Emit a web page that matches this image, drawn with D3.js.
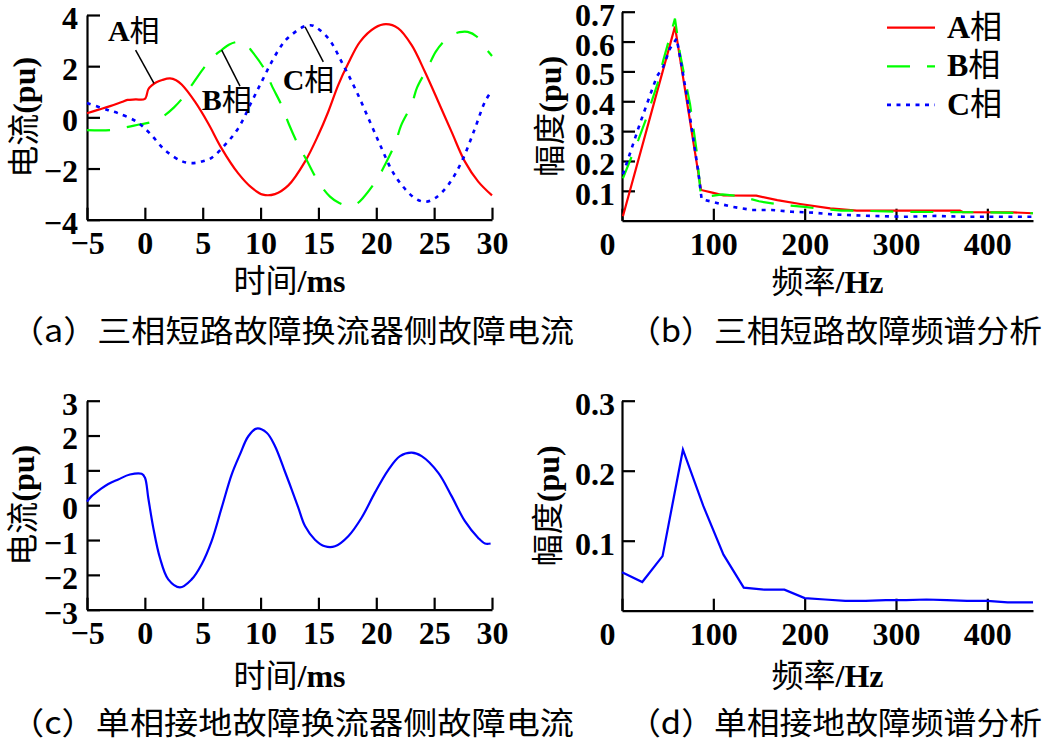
<!DOCTYPE html>
<html><head><meta charset="utf-8">
<script src="https://cdn.jsdelivr.net/npm/d3@7"></script>
<style>
body{margin:0;background:#fff;}
svg{display:block;background:#fff;}
</style></head><body>
<svg id="chart" width="1044" height="739"></svg>
<script>
// ---------- data ----------
const timeTicks = [-5, 0, 5, 10, 15, 20, 25, 30];
const curTicksA = [-4, -2, 0, 2, 4];
const curTicksC = [-3, -2, -1, 0, 1, 2, 3];
const freqTicks = [0, 100, 200, 300, 400];
const magTicksB = [0.1, 0.2, 0.3, 0.4, 0.5, 0.6, 0.7];
const magTicksD = [0.1, 0.2, 0.3];

const phaseLabels = ["A相", "B相", "C相"];
const phaseColors = ["#ff0000", "#00ff00", "#0000ff"];

// (a) three-phase short circuit converter-side current
const timeA = [-5, -4, -3, -2, -1.5, -0.8, 0, 0.3, 0.6, 1.0, 1.5, 2.17, 2.7, 3.18, 4.33, 5.48, 6.63, 8.07, 9.23, 10.2, 11.24, 12.4, 13.84, 14.99, 15.85, 16.71, 17.58, 18.59, 19.88, 20.84, 21.9, 23.06, 24.2, 25.36, 26.5, 27.66, 28.81, 30];
const currA = [0.16, 0.3, 0.44, 0.6, 0.68, 0.7, 0.72, 1.1, 1.25, 1.37, 1.46, 1.52, 1.45, 1.28, 0.61, -0.24, -1.21, -2.19, -2.75, -3.02, -3.0, -2.66, -1.73, -0.69, 0.22, 1.26, 2.11, 2.95, 3.5, 3.64, 3.48, 2.82, 1.78, 0.61, -0.56, -1.73, -2.51, -3.05];
const timeB = [-5, -3, -1.45, -0.5, 0.44, 1.0, 1.74, 2.5, 3.18, 4.1, 5.25, 6.0, 6.63, 7.3, 8.07, 8.6, 9.29, 10.38, 10.96, 11.88, 12.45, 13.26, 13.98, 14.99, 16.0, 16.8, 17.58, 18.3, 18.87, 20.12, 20.81, 21.67, 22.13, 23.06, 23.52, 24.44, 25.13, 25.8, 26.51, 27.2, 27.9, 28.7, 29.39, 30];
const currB = [-0.5, -0.5, -0.37, -0.28, -0.2, -0.1, 0.09, 0.38, 0.71, 1.29, 2.02, 2.4, 2.63, 2.85, 2.95, 2.9, 2.56, 1.85, 1.25, 0.41, -0.27, -1.08, -1.67, -2.52, -3.1, -3.35, -3.46, -3.38, -3.14, -2.38, -1.8, -0.98, -0.33, 0.51, 1.16, 1.94, 2.56, 2.95, 3.21, 3.33, 3.34, 3.15, 2.73, 2.4];
const timeC = [-5, -3.16, -2.3, -0.71, 0.44, 1.74, 3.18, 4.04, 4.9, 5.77, 6.92, 8.07, 9.23, 10.09, 10.96, 11.82, 12.4, 13.69, 14.2, 14.55, 15.85, 17.15, 18.3, 19.45, 20.46, 21.33, 22.19, 23.34, 24.2, 25.07, 26.22, 27.38, 28.53, 29.39, 30];
const currC = [0.56, 0.28, 0.16, -0.17, -0.63, -1.28, -1.71, -1.79, -1.73, -1.58, -1.08, -0.43, 0.61, 1.39, 2.17, 2.82, 3.12, 3.54, 3.6, 3.58, 3.09, 2.04, 1.0, -0.17, -1.21, -2.06, -2.64, -3.16, -3.3, -3.16, -2.64, -1.73, -0.43, 0.61, 1.05];

// (b) three-phase short circuit spectrum
const freqA = [1, 58, 86.5, 100, 111, 147, 170, 195, 228, 257, 370, 373, 428, 450];
const magA  = [0.015, 0.65, 0.103, 0.093, 0.085, 0.084, 0.069, 0.056, 0.041, 0.034, 0.034, 0.029, 0.028, 0.025];
const freqB = [1, 10.6, 17.8, 26.9, 32.5, 39.7, 45.2, 58, 63.5, 74.5, 81.8, 86.5, 95, 110, 130, 150, 175, 200, 220, 240, 265, 300, 350, 400, 450];
const magB  = [0.142, 0.215, 0.27, 0.345, 0.4, 0.466, 0.537, 0.677, 0.56, 0.39, 0.231, 0.078, 0.082, 0.088, 0.082, 0.065, 0.053, 0.046, 0.039, 0.034, 0.033, 0.03, 0.029, 0.028, 0.025];
const freqC = [1, 8.8, 19.7, 30.7, 38, 45.2, 52.6, 59.9, 65.4, 70.8, 78, 83.5, 87.2, 98, 109, 120, 142, 164, 186, 209, 231, 264, 308, 344, 377, 450];
const magC  = [0.155, 0.226, 0.326, 0.42, 0.482, 0.516, 0.577, 0.61, 0.516, 0.42, 0.276, 0.164, 0.072, 0.064, 0.055, 0.047, 0.036, 0.036, 0.03, 0.027, 0.021, 0.017, 0.013, 0.016, 0.013, 0.013];

// (c) single-phase ground fault converter-side current
const timeS = [-5, -4.6, -3.88, -3.16, -2.3, -1.29, -0.28, 0.01, 0.3, 0.73, 1.3, 2.02, 3.03, 4.04, 4.9, 5.77, 6.64, 7.5, 8.22, 8.94, 9.66, 10.53, 11.24, 12.11, 12.69, 13.26, 13.84, 14.7, 15.56, 16.43, 17.58, 18.73, 19.88, 21.03, 22.05, 23.06, 23.92, 25.36, 26.51, 27.66, 28.81, 29.39, 29.88];
const currS = [0.1, 0.26, 0.45, 0.61, 0.74, 0.88, 0.9, 0.79, 0.2, -0.65, -1.51, -2.13, -2.36, -2.13, -1.7, -1.03, -0.07, 0.88, 1.46, 1.98, 2.2, 2.08, 1.7, 0.96, 0.45, -0.07, -0.6, -0.99, -1.18, -1.18, -0.89, -0.36, 0.36, 1.01, 1.41, 1.51, 1.41, 0.93, 0.26, -0.46, -0.94, -1.1, -1.1];

// (d) single-phase ground fault spectrum
const freqS = [0, 22.2, 44.4, 66.7, 88.9, 111.1, 133.3, 155.6, 177.8, 200, 222.2, 244.4, 266.7, 288.9, 311.1, 333.3, 355.6, 377.8, 400, 422.2, 444.4, 450];
const magS  = [0.055, 0.041, 0.078, 0.23, 0.15, 0.08, 0.033, 0.03, 0.03, 0.018, 0.016, 0.014, 0.014, 0.015, 0.015, 0.016, 0.015, 0.014, 0.014, 0.012, 0.012, 0.012];

// annotations in panel (a): leader line [t1, v1, t2, v2] and label anchor [t, v]
const annoLines = [[-0.8, 2.63, 0.79, 1.33], [6.64, 2.63, 8.22, 1.22], [13.84, 3.54, 15.42, 2.17]];
const annoPos = [[-3.19, 2.98], [4.91, 0.28], [11.91, 1.07]];

const captions = ["（a）三相短路故障换流器侧故障电流", "（b）三相短路故障频谱分析",
                  "（c）单相接地故障换流器侧故障电流", "（d）单相接地故障频谱分析"];

// ---------- drawing ----------
const svg = d3.select("#chart");
const LAT = "'Liberation Serif','Times New Roman',serif";
const CJK = "'Noto Sans CJK SC','Noto Sans CJK JP',sans-serif";
const CJKRE = /[\u3000-\u9fff\uff00-\uffef]/;

function mixedText(sel, str, size) {
  const runs = str.match(/[\u3000-\u9fff\uff00-\uffef]+|[^\u3000-\u9fff\uff00-\uffef]+/g);
  runs.forEach(r => {
    const cjk = CJKRE.test(r);
    sel.append("tspan").text(r)
      .attr("font-family", cjk ? CJK : LAT)
      .attr("font-weight", cjk ? "normal" : "bold")
      .attr("font-size", size);
  });
  return sel;
}

const dashes = [null, "23,17", "4,5.5"];

function panel(p) {
  const g = svg.append("g");
  const x = d3.scaleLinear().domain(p.xd).range(p.xr);
  const y = d3.scaleLinear().domain(p.yd).range(p.yr);

  const xa = d3.axisBottom(x).tickValues(p.xt).tickFormat(p.xf)
    .tickSizeInner(-12).tickSizeOuter(0).tickPadding(12);
  const ya = d3.axisLeft(y).tickValues(p.yt).tickFormat(p.yf)
    .tickSizeInner(-13).tickSizeOuter(0).tickPadding(p.ypad);

  const gx = g.append("g").attr("transform", `translate(0,${p.yr[0]})`).call(xa);
  const gy = g.append("g").attr("transform", `translate(${p.xr[0]},0)`).call(ya);
  [gx, gy].forEach(a => {
    a.select(".domain").attr("stroke", "#000").attr("stroke-width", 2.2);
    a.selectAll(".tick line").attr("stroke", "#000").attr("stroke-width", 2.2);
    a.selectAll(".tick text").attr("fill", "#000").attr("font-family", LAT)
      .attr("font-weight", "bold").attr("font-size", 32);
  });
  gy.selectAll(".tick text").attr("dy", "0.42em");
  if (p.zeroShift) gx.selectAll(".tick").filter(d => d === 0).select("text").attr("dx", p.zeroShift);

  // series
  p.series.forEach(s => {
    const line = d3.line().x(d => x(d[0])).y(d => y(d[1])).curve(p.curve);
    g.append("path").datum(d3.zip(s.x, s.y))
      .attr("d", line).attr("fill", "none")
      .attr("stroke", s.color).attr("stroke-width", s.w || 2.2)
      .attr("stroke-dasharray", s.dash || null);
  });

  // axis titles
  const cx = (p.xr[0] + p.xr[1]) / 2;
  mixedText(g.append("text").attr("x", cx).attr("y", p.yr[0] + p.xtOff)
    .attr("text-anchor", "middle").attr("fill", "#000"), p.xTitle, 32);
  const cy = (p.yr[0] + p.yr[1]) / 2;
  mixedText(g.append("text").attr("transform", `translate(${p.ytX},${cy}) rotate(-90)`)
    .attr("text-anchor", "middle").attr("fill", "#000"), p.yTitle, 32);

  // caption
  g.append("text").attr("x", p.capX).attr("y", p.capY)
    .attr("font-family", CJK).attr("font-size", 31).attr("fill", "#000")
    .attr("textLength", p.capW).attr("lengthAdjust", "spacingAndGlyphs")
    .text(p.caption);
  return {g, x, y};
}

const pa = panel({
  xd: [-5, 30], xr: [87, 492], yd: [-4, 4], yr: [219.7, 15],
  xt: timeTicks, yt: curTicksA, xf: d3.format("d"), yf: d3.format("d"), ypad: 9,
  curve: d3.curveCatmullRom.alpha(0.5),
  series: [
    {x: timeA, y: currA, color: phaseColors[0]},
    {x: timeB, y: currB, color: phaseColors[1], dash: dashes[1]},
    {x: timeC, y: currC, color: phaseColors[2], dash: dashes[2], w: 2.6}
  ],
  xTitle: "时间/ms", yTitle: "电流(pu)", xtOff: 72, ytX: 35,
  caption: captions[0], capX: 10, capY: 342, capW: 564
});

// annotations (a)
annoLines.forEach(l => {
  pa.g.append("line").attr("x1", pa.x(l[0])).attr("y1", pa.y(l[1]))
    .attr("x2", pa.x(l[2])).attr("y2", pa.y(l[3]))
    .attr("stroke", "#000").attr("stroke-width", 1.5);
});
annoPos.forEach((a, i) => {
  mixedText(pa.g.append("text").attr("x", pa.x(a[0])).attr("y", pa.y(a[1])).attr("fill", "#000"),
    phaseLabels[i], 30);
});

const pb = panel({
  xd: [0, 450], xr: [622, 1033], yd: [0, 0.7], yr: [220.7, 11.7],
  xt: freqTicks, yt: magTicksB, xf: d3.format("d"), yf: d3.format(".1f"), ypad: 7, zeroShift: -15,
  curve: d3.curveLinear,
  series: [
    {x: freqA, y: magA, color: phaseColors[0]},
    {x: freqB, y: magB, color: phaseColors[1], dash: dashes[1]},
    {x: freqC, y: magC, color: phaseColors[2], dash: dashes[2], w: 2.6}
  ],
  xTitle: "频率/Hz", yTitle: "幅度(pu)", xtOff: 72, ytX: 561,
  caption: captions[1], capX: 628, capY: 342, capW: 414
});

// legend (b)
phaseLabels.forEach((lab, i) => {
  const ly = 27.7 + i * 38.6;
  pb.g.append("line").attr("x1", 887).attr("x2", 935).attr("y1", ly).attr("y2", ly)
    .attr("stroke", phaseColors[i]).attr("stroke-width", i === 2 ? 2.6 : 2.2)
    .attr("stroke-dasharray", dashes[i]);
  mixedText(pb.g.append("text").attr("x", 947).attr("y", ly + 10).attr("fill", "#000"), lab, 32);
});

panel({
  xd: [-5, 30], xr: [87, 492], yd: [-3, 3], yr: [609.7, 400.7],
  xt: timeTicks, yt: curTicksC, xf: d3.format("d"), yf: d3.format("d"), ypad: 9,
  curve: d3.curveCatmullRom.alpha(0.5),
  series: [{x: timeS, y: currS, color: "#0000ff"}],
  xTitle: "时间/ms", yTitle: "电流(pu)", xtOff: 77, ytX: 34,
  caption: captions[2], capX: 10, capY: 734, capW: 564
});

panel({
  xd: [0, 450], xr: [622, 1033], yd: [0, 0.3], yr: [610.7, 400.7],
  xt: freqTicks, yt: magTicksD, xf: d3.format("d"), yf: d3.format(".1f"), ypad: 7, zeroShift: -15,
  curve: d3.curveLinear,
  series: [{x: freqS, y: magS, color: "#0000ff"}],
  xTitle: "频率/Hz", yTitle: "幅度(pu)", xtOff: 76, ytX: 559,
  caption: captions[3], capX: 628, capY: 734, capW: 414
});
</script>
</body></html>
